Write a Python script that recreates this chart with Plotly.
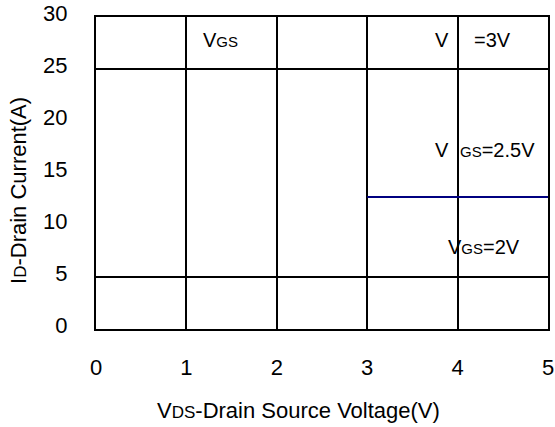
import plotly.graph_objects as go

# VGS = 2.5V curve segment (only visible part)
vds = [3, 5]
id_curve = [12.7, 12.7]

x_ticks = [0, 1, 2, 3, 4, 5]
y_ticks = [0, 5, 10, 15, 20, 25, 30]
h_grid = [5, 25]

SUB = "<span style='font-size:15px'>{}</span>"

# curve labels: text, x, y
lbl_text = ["V" + SUB.format("GS"), "V", "=3V",
            "V", SUB.format("GS") + "=2.5V",
            "V" + SUB.format("GS") + "=2V"]
lbl_x = [1.38, 3.83, 4.39, 3.83, 4.44, 4.29]
lbl_y = [27.8, 27.8, 27.8, 17.2, 17.2, 7.9]

fig = go.Figure()
fig.add_trace(go.Scatter(x=vds, y=id_curve, mode="lines",
                         line=dict(color="#000080", width=2), showlegend=False))

for h in h_grid:
    fig.add_hline(y=h, line=dict(color="black", width=2), layer="below")

for t, x, y in zip(lbl_text, lbl_x, lbl_y):
    fig.add_annotation(x=x, y=y, text=t, showarrow=False,
                       font=dict(size=20, color="black"))

# axis titles placed as annotations (they sit off-centre in the original)
fig.add_annotation(xref="paper", yref="paper", x=-0.1726, y=0.4455,
                   xanchor="center", yanchor="middle",
                   text="I<span style='font-size:17px'>D</span>-Drain Current(A)",
                   textangle=-90, showarrow=False, font=dict(size=22, color="black"))
fig.add_annotation(xref="paper", yref="paper", x=0.447, y=-0.26,
                   xanchor="center", yanchor="middle",
                   text="V<span style='font-size:17px'>DS</span>-Drain Source Voltage(V)",
                   showarrow=False, font=dict(size=22, color="black"))

fig.update_xaxes(range=[0, 5], tickvals=x_ticks, showgrid=True, gridcolor="black",
                 gridwidth=2, showline=True, linecolor="black", linewidth=2, mirror=True,
                 zeroline=False, ticks="", ticklabelstandoff=18, ticklabeloverflow="allow",
                 tickfont=dict(size=22, color="black"))
fig.update_yaxes(range=[0, 30], tickvals=y_ticks, showgrid=False, showline=True,
                 linecolor="black", linewidth=2, mirror=True, zeroline=False, ticks="",
                 ticklabelstandoff=22, ticklabelshift=-4, ticklabeloverflow="allow",
                 tickfont=dict(size=22, color="black"))

fig.update_layout(width=555, height=427, plot_bgcolor="white", paper_bgcolor="white",
                  font=dict(family="Liberation Sans, Arial", color="black"),
                  margin=dict(l=96, r=7, t=17, b=98, autoexpand=False))

# drop the default 8px page margin so the figure fills the window
fig.write_html("out.html", config={"displayModeBar": False},
               post_script="document.body.style.margin='0';")
